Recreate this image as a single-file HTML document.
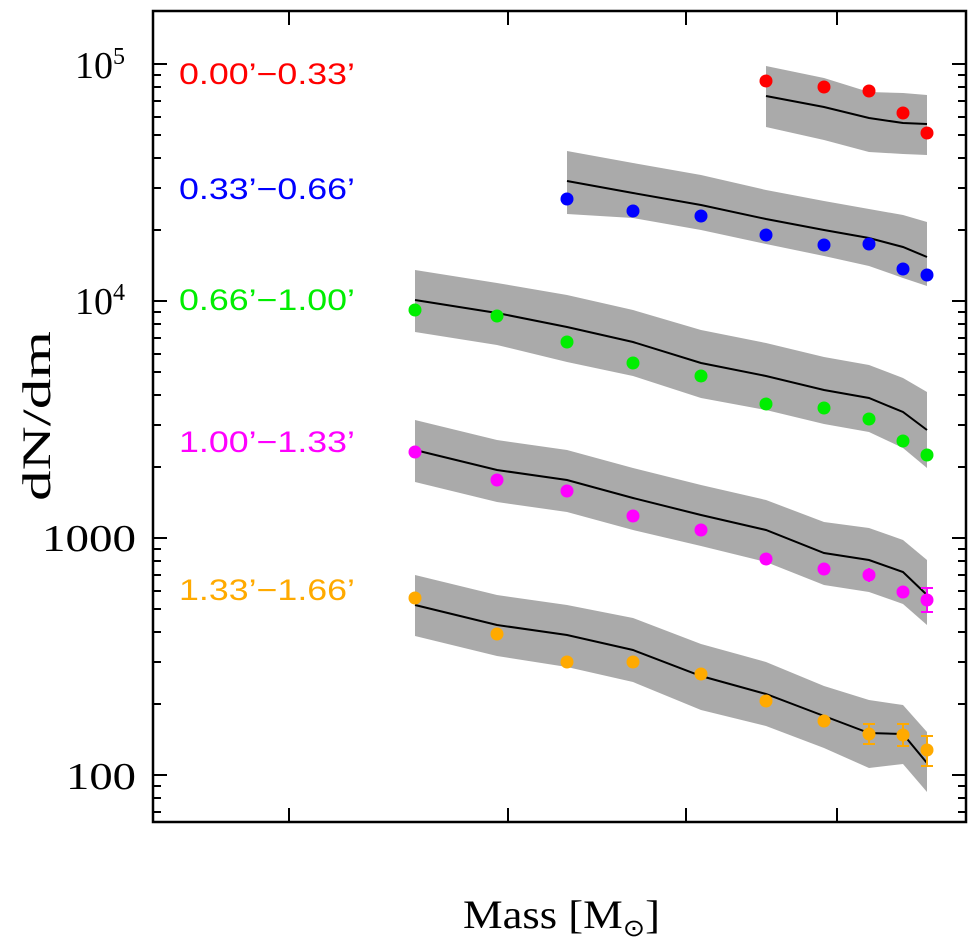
<!DOCTYPE html>
<html><head><meta charset="utf-8"><style>html,body{margin:0;padding:0;background:#fff}svg{display:block}</style></head>
<body>
<svg width="978" height="938" viewBox="0 0 978 938" xmlns="http://www.w3.org/2000/svg">
<rect width="978" height="938" fill="#fff"/>
<g fill="#aaaaaa" stroke="none">
<polygon points="766,66 824,78 869,92 903,93 927,95 927,155 903,154 869,152 824,140 766,127"/>
<polygon points="567,151 633,163 701,175 766,190 824,201 869,209 903,215 927,222 927,286 903,278 869,266 824,256 766,244 701,230 633,218 567,214"/>
<polygon points="415,270 497,283 567,295 633,310 701,330 766,343 824,357 869,365 903,378 927,392 927,468 903,448 869,432 824,424 766,410 701,398 633,376 567,362 497,345 415,332"/>
<polygon points="415,420 497,440 567,450 633,468 701,485 766,500 824,522 869,528 903,540 927,560 927,625 903,604 869,592 824,585 766,562 701,546 633,530 567,512 497,502 415,482"/>
<polygon points="415,575 497,595 567,605 633,618 701,644 766,662 824,686 869,700 903,705 927,732 927,792 903,764 869,768 824,748 766,726 701,710 633,682 567,667 497,656 415,636"/>
</g>
<g fill="none" stroke="#000" stroke-width="2">
<polyline points="766,96 824,107 869,118 903,123 927,124"/>
<polyline points="567,181 633,193 701,205 766,219 824,230 869,238 903,247 927,257"/>
<polyline points="415,300 497,313 567,327 633,342 701,363 766,376 824,390 869,398 903,412 927,430"/>
<polyline points="415,450 497,470 567,480 633,498 701,515 766,530 824,553 869,560 903,572 927,595"/>
<polyline points="415,605 497,625 567,635 633,650 701,676 766,694 824,716 869,733 903,734 927,763"/>
</g>
<g fill="#ff0000"><circle cx="766" cy="81" r="6.5"/><circle cx="824" cy="87" r="6.5"/><circle cx="869" cy="91" r="6.5"/><circle cx="903" cy="113" r="6.5"/><circle cx="927" cy="133" r="6.5"/></g>
<g fill="#0000ff"><circle cx="567" cy="199" r="6.5"/><circle cx="633" cy="211" r="6.5"/><circle cx="701" cy="216" r="6.5"/><circle cx="766" cy="235" r="6.5"/><circle cx="824" cy="245" r="6.5"/><circle cx="869" cy="244" r="6.5"/><circle cx="903" cy="269" r="6.5"/><circle cx="927" cy="275" r="6.5"/></g>
<g fill="#00ee00"><circle cx="415" cy="310" r="6.5"/><circle cx="497" cy="316" r="6.5"/><circle cx="567" cy="342" r="6.5"/><circle cx="633" cy="363" r="6.5"/><circle cx="701" cy="376" r="6.5"/><circle cx="766" cy="404" r="6.5"/><circle cx="824" cy="408" r="6.5"/><circle cx="869" cy="419" r="6.5"/><circle cx="903" cy="441" r="6.5"/><circle cx="927" cy="455" r="6.5"/></g>
<g fill="#ff00ff"><circle cx="415" cy="452" r="6.5"/><circle cx="497" cy="480" r="6.5"/><circle cx="567" cy="491" r="6.5"/><circle cx="633" cy="516" r="6.5"/><circle cx="701" cy="530" r="6.5"/><circle cx="766" cy="559" r="6.5"/><circle cx="824" cy="569" r="6.5"/><circle cx="869" cy="575" r="6.5"/><circle cx="903" cy="592" r="6.5"/><circle cx="927" cy="600" r="6.5"/></g>
<g stroke="#ff00ff" stroke-width="2"><line x1="927" y1="588" x2="927" y2="612"/><line x1="921" y1="588" x2="933" y2="588"/><line x1="921" y1="612" x2="933" y2="612"/><line x1="869" y1="568" x2="869" y2="582"/></g>
<g fill="#ffaa00"><circle cx="415" cy="598" r="6.5"/><circle cx="497" cy="634" r="6.5"/><circle cx="567" cy="662" r="6.5"/><circle cx="633" cy="662" r="6.5"/><circle cx="701" cy="674" r="6.5"/><circle cx="766" cy="701" r="6.5"/><circle cx="824" cy="721" r="6.5"/><circle cx="869" cy="734" r="6.5"/><circle cx="903" cy="735" r="6.5"/><circle cx="927" cy="750" r="6.5"/></g>
<g stroke="#ffaa00" stroke-width="2"><line x1="869" y1="724" x2="869" y2="744"/><line x1="863" y1="724" x2="875" y2="724"/><line x1="863" y1="744" x2="875" y2="744"/><line x1="903" y1="724" x2="903" y2="746"/><line x1="897" y1="724" x2="909" y2="724"/><line x1="897" y1="746" x2="909" y2="746"/><line x1="927" y1="736" x2="927" y2="766"/><line x1="921" y1="736" x2="933" y2="736"/><line x1="921" y1="766" x2="933" y2="766"/></g>
<rect x="153" y="11" width="813" height="811" fill="none" stroke="#000" stroke-width="2.5"/>
<g stroke="#000" stroke-width="2">
<line x1="289" y1="11" x2="289" y2="25"/><line x1="508" y1="11" x2="508" y2="25"/><line x1="686" y1="11" x2="686" y2="25"/><line x1="837" y1="11" x2="837" y2="25"/>
<line x1="289" y1="822" x2="289" y2="808"/><line x1="508" y1="822" x2="508" y2="808"/><line x1="686" y1="822" x2="686" y2="808"/><line x1="837" y1="822" x2="837" y2="808"/>
<path d="M153 64h14M153 301h14M153 538h14M153 775h14M966 64h-14M966 301h-14M966 538h-14M966 775h-14"/>
<path d="M153 812h8M153 798h8M153 786h8M153 704h8M153 662h8M153 632h8M153 609h8M153 591h8M153 575h8M153 561h8M153 549h8M153 467h8M153 425h8M153 395h8M153 372h8M153 354h8M153 338h8M153 324h8M153 312h8M153 230h8M153 188h8M153 158h8M153 135h8M153 117h8M153 101h8M153 87h8M153 75h8"/>
<path d="M966 812h-8M966 798h-8M966 786h-8M966 704h-8M966 662h-8M966 632h-8M966 609h-8M966 591h-8M966 575h-8M966 561h-8M966 549h-8M966 467h-8M966 425h-8M966 395h-8M966 372h-8M966 354h-8M966 338h-8M966 324h-8M966 312h-8M966 230h-8M966 188h-8M966 158h-8M966 135h-8M966 117h-8M966 101h-8M966 87h-8M966 75h-8"/>
</g>
<g font-family="Liberation Serif, serif" font-size="38" fill="#000">
<text x="75" y="78">10<tspan font-size="24" dy="-14">5</tspan></text>
<text x="75" y="314">10<tspan font-size="24" dy="-14">4</tspan></text>
<text x="42" y="551" textLength="94" lengthAdjust="spacingAndGlyphs">1000</text>
<text x="66" y="789" textLength="70" lengthAdjust="spacingAndGlyphs">100</text>
</g>
<text x="0" y="0" transform="translate(50 416) rotate(-90)" text-anchor="middle" font-family="Liberation Serif, serif" font-size="40" textLength="170" lengthAdjust="spacingAndGlyphs">dN/dm</text>
<text x="463" y="928" font-family="Liberation Serif, serif" font-size="40" textLength="197" lengthAdjust="spacingAndGlyphs">Mass [M<tspan font-size="24" dy="8">⊙</tspan><tspan dy="-8">]</tspan></text>
<g font-family="Liberation Sans, sans-serif" font-size="30">
<text x="179" y="84" fill="#ff0000" textLength="176" lengthAdjust="spacingAndGlyphs">0.00’−0.33’</text>
<text x="179" y="199" fill="#0000ff" textLength="176" lengthAdjust="spacingAndGlyphs">0.33’−0.66’</text>
<text x="179" y="310" fill="#00ee00" textLength="176" lengthAdjust="spacingAndGlyphs">0.66’−1.00’</text>
<text x="179" y="452" fill="#ff00ff" textLength="176" lengthAdjust="spacingAndGlyphs">1.00’−1.33’</text>
<text x="179" y="600" fill="#ffaa00" textLength="176" lengthAdjust="spacingAndGlyphs">1.33’−1.66’</text>
</g>
</svg>
</body></html>
